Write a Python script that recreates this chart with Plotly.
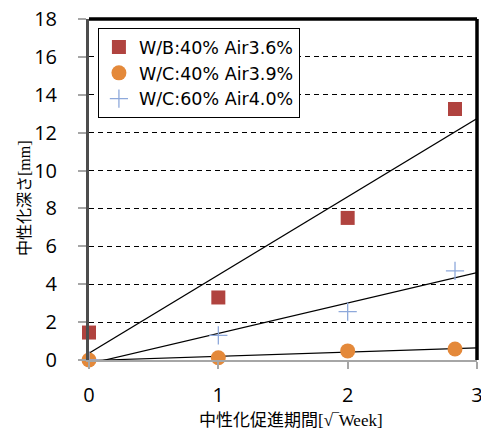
import numpy as np
import plotly.graph_objects as go

# Carbonation depth vs. accelerated period (sqrt of weeks)
weeks_sqrt = [0, 1, 2, 2.83]
series_names = ["W/B:40% Air3.6%", "W/C:40% Air3.9%", "W/C:60% Air4.0%"]
depth_wb40 = [1.45, 3.3, 7.5, 13.25]
depth_wc40 = [0.0, 0.12, 0.48, 0.58]
depth_wc60 = [0.0, 1.3, 2.55, 4.7]

x_range = [0, 3]
y_range = [0, 18]
y_ticks = [0, 2, 4, 6, 8, 10, 12, 14, 16, 18]
x_ticks = [0, 1, 2, 3]

colors = ["#B0433F", "#E4893A", "#8EA9DB"]
symbols = ["square", "circle", "cross-thin"]
sizes = [14, 15, 13]

fig = go.Figure()

all_depths = [depth_wb40, depth_wc40, depth_wc60]

# least-squares trend lines across the x range
for depth in all_depths:
    slope, intercept = np.polyfit(weeks_sqrt, depth, 1)
    xs = np.array(x_range, dtype=float)
    fig.add_trace(go.Scatter(
        x=xs, y=slope * xs + intercept, mode="lines",
        line=dict(color="black", width=1.2),
        showlegend=False, hoverinfo="skip",
    ))

for i, (name, depth) in enumerate(zip(series_names, all_depths)):
    marker = dict(color=colors[i], size=sizes[i], symbol=symbols[i])
    if symbols[i] == "cross-thin":
        marker["line"] = dict(color=colors[i], width=1.3)
    fig.add_trace(go.Scatter(
        x=weeks_sqrt, y=depth, mode="markers", name=name,
        marker=marker, cliponaxis=False, legendgroup=name,
    ))

tick_font = dict(family="Open Sans", size=20, color="black")

fig.update_layout(
    width=481, height=432,
    margin=dict(l=89, r=4, t=19, b=72),
    paper_bgcolor="white", plot_bgcolor="white",
    showlegend=True,
    legend=dict(
        x=0.023, y=0.973, xanchor="left", yanchor="top",
        bgcolor="white", bordercolor="black", borderwidth=1,
        font=dict(family="DejaVu Sans", size=17.5, color="black"),
        tracegroupgap=16, traceorder="normal",
    ),
    xaxis=dict(
        range=x_range, tickvals=x_ticks, showgrid=False, zeroline=False,
        showline=True, linecolor="#A6A6A6", linewidth=2,
        ticks="outside", ticklen=7, tickcolor="#A6A6A6", tickwidth=1.5,
        tickfont=tick_font, ticklabelstandoff=9, ticklabeloverflow="allow",
        automargin=False,
    ),
    yaxis=dict(
        range=y_range, tickvals=y_ticks, showgrid=True,
        gridcolor="black", gridwidth=1, griddash="5px,4px", zeroline=False,
        showline=True, linecolor="#4D4D4D", linewidth=3,
        ticks="outside", ticklen=8, tickcolor="#A6A6A6", tickwidth=1.5,
        tickfont=tick_font, ticklabelstandoff=17, automargin=False,
    ),
    shapes=[
        dict(type="line", xref="paper", yref="paper", x0=0, x1=1, y0=1, y1=1,
             line=dict(color="black", width=3.5)),
        dict(type="line", xref="paper", yref="paper", x0=1, x1=1, y0=0, y1=1,
             line=dict(color="black", width=3.5)),
    ],
    annotations=[
        dict(text='中性化促進期間<span style="font-family:Liberation Serif">[√‾Week]</span>',
             xref="paper", yref="paper", x=0.52, y=-0.172,
             showarrow=False, xanchor="center", yanchor="middle",
             font=dict(family="Noto Sans CJK JP", size=17, color="black")),
        dict(text='中性化深さ<span style="font-family:Liberation Serif">[mm]</span>',
             xref="paper", yref="paper", x=-0.170, y=0.475, textangle=-90,
             showarrow=False, xanchor="center", yanchor="middle",
             font=dict(family="Noto Sans CJK JP", size=16, color="black")),
    ],
)

fig.write_html("out.html")
